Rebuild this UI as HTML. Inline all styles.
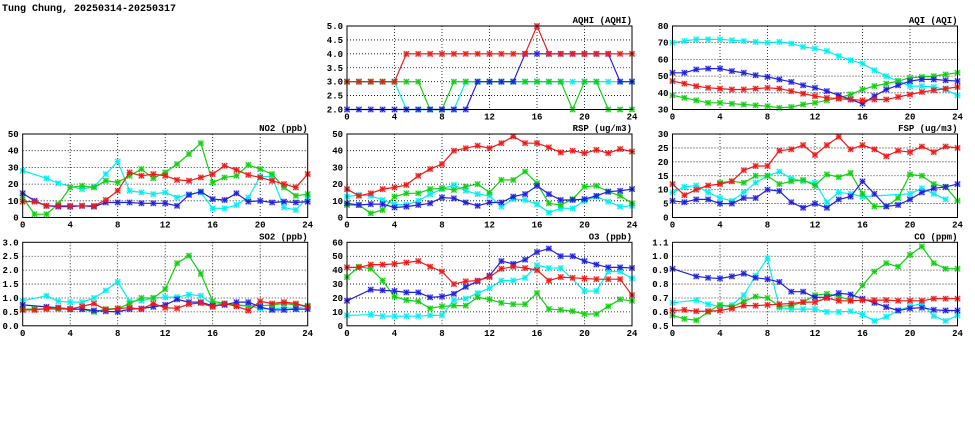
<!DOCTYPE html>
<html><head><meta charset="utf-8"><style>
html,body{margin:0;padding:0;background:#fff;width:975px;height:447px;overflow:hidden}
svg text{font-family:"Liberation Mono",monospace;font-weight:bold;font-size:9px;fill:#000}
</style></head><body>
<svg id="s" width="975" height="447" xmlns="http://www.w3.org/2000/svg">
<text x="2" y="11" style="font-size:10px">Tung Chung, 20250314-20250317</text>
</svg>
<script>
var N=null;
var C={c:"#00f0f0",g:"#10d010",b:"#2020e0",r:"#f01818"};
var P=[
{t:"AQHI (AQHI)",x:347,y:26,min:2,max:5,step:0.5,dec:1,d:{
c:[3,3,3,3,3,2,2,2,2,2,3,3,3,3,3,3,3,3,3,3,3,3,3,3,3],
g:[3,3,3,3,3,3,3,2,2,3,3,3,3,3,3,3,3,3,3,2,3,3,2,2,2],
b:[2,2,2,2,2,2,2,2,2,2,2,3,3,3,3,4,4,4,4,4,4,4,4,3,3],
r:[3,3,3,3,3,4,4,4,4,4,4,4,4,4,4,4,5,4,4,4,4,4,4,4,4]}},
{t:"AQI (AQI)",x:672.5,y:26,min:30,max:80,step:10,dec:0,d:{
c:[70,71,72,72,72,71.5,71,70.5,70,70.5,69.5,67.5,66.5,65,62,59.5,57.5,53.5,50,47,44,44,43.5,42,38.5],
g:[38.5,37,35.5,34,34,33.5,33,32.5,32,31,31.5,33,34,35.5,37,39,42,44,45.5,47,49,49.5,50,51,52],
b:[52,52,54,54.5,54.5,53,52,50.5,49.5,48,46.5,44.5,43,41,38.5,36,33.5,38,42,44.5,47,48,48,47.5,47],
r:[47,45.5,44,43,42.5,42,42,42.5,43,42.5,41,39.5,38,37,36.5,36,35.5,36,36,37.5,39,40.5,41.5,42.5,43.5]}},
{t:"NO2 (ppb)",x:22.7,y:134,min:0,max:50,step:10,dec:0,d:{
c:[28,N,23.5,20.5,N,17,18.5,26,33.5,16,15,14,15,12,14,15,5.5,5.5,7.5,12,24.5,24.5,6,4.5,12],
g:[12,2,2,8,18,19,18,22,21,25,29,23.5,27,32,38,44.5,21,24,25,31.5,29,26,18,13,14],
b:[14.5,10,7,6.5,6.5,7,6.5,9,9,9,8.5,8.5,8.5,7,13.5,15.5,11,10.5,14.5,9.5,10,9,9.5,9,9.5],
r:[9.5,9.5,7,7,7,7,7,10.5,16,27,25,26,25,22.5,22,24,26,31,28.5,25.5,24,22,20,18,26]}},
{t:"RSP (ug/m3)",x:347,y:134,min:0,max:50,step:10,dec:0,d:{
c:[12.5,13.5,13,10.5,8,7.5,10,14,17,19.5,16,14,13,6.5,11,10.5,8,3,5.5,5.5,10,12.5,9.5,6.5,7],
g:[7.5,7.5,2.5,4.5,12.5,14.5,14.5,17,17.5,16.5,18.5,20,15,22.5,22.5,27.5,20.5,8.5,7.5,11,18.5,19,15.5,13,8.5],
b:[8.5,7.5,8,8,6,6.5,7.5,8.5,12,11.5,9,7,9,9,12.5,14,19,14,10.5,10.5,11,13,15.5,16,17],
r:[17,13,14.5,17,18,19.5,25,29,32,40,41.5,43,41.5,44.5,48.5,44.5,44.5,42,39,40,38.5,40.5,38.5,41,39.5]}},
{t:"FSP (ug/m3)",x:672.5,y:134,min:0,max:30,step:5,dec:0,d:{
c:[9,11,11.5,9,7,6,9,12.5,15,16.5,14,13,12.5,5.5,9,8.5,7.5,N,N,N,8.5,10.5,8.5,6.5,N],
g:[N,N,N,N,12.5,13,12.5,15,15,12,13,13.5,11.5,15.5,14.5,16,8.5,4,4,7,15.5,15,12,11,6],
b:[6,5.5,6.5,6.5,5,5,7,7,10,9.5,5.5,3.5,5,3.5,6.5,7.5,13,8.5,4,4.5,6.5,9,10.5,11,12],
r:[12,8,10,11.5,12,13,17,18.5,18.5,24,24.5,26,22.5,26,29,24.5,26,24.5,22,24,23.5,25.5,23.5,25.5,25]}},
{t:"SO2 (ppb)",x:22.7,y:242.3,min:0,max:3,step:0.5,dec:1,d:{
c:[0.9,N,1.08,0.88,0.85,0.85,1.0,1.27,1.58,0.88,0.9,1.0,1.03,1.03,1.12,1.08,0.78,0.8,0.72,0.72,0.62,0.6,0.65,0.62,0.72],
g:[0.6,0.6,0.6,0.6,0.6,0.6,0.5,0.6,0.62,0.8,1.0,1.0,1.32,2.25,2.52,1.87,0.88,0.8,0.75,0.72,0.72,0.75,0.8,0.75,0.72],
b:[0.75,N,0.68,0.65,0.6,0.6,0.55,0.52,0.5,0.6,0.62,0.68,0.75,0.95,0.85,0.85,0.72,0.75,0.85,0.85,0.68,0.57,0.57,0.6,0.6],
r:[0.57,0.57,0.62,0.65,0.6,0.7,0.8,0.58,0.62,0.65,0.6,0.8,0.65,0.63,0.78,0.82,0.68,0.8,0.7,0.55,0.88,0.8,0.85,0.8,0.68]}},
{t:"O3 (ppb)",x:347,y:242.3,min:0,max:60,step:10,dec:0,d:{
c:[7.5,N,8,7,7,7,7,7.5,7.5,18.5,19.5,23.5,27,32.5,32.5,34.5,43.5,41.5,41.5,N,25,25,39,39,34],
g:[35,42.5,41,32.5,21,18.5,17.5,12.5,14,14.5,14.5,20.5,19,16.5,15.5,15.5,23.5,12,11.5,10.5,8.5,8.5,14,19,18],
b:[18,N,26,25.5,25,24,24,20.5,21,23,28,32,36,46.5,44.5,47.5,53,55.5,50,50,46.5,44,42,42,41.5],
r:[42,42,44,44,44.5,45.5,46.5,42.5,39,30,32,32.5,35,41,42.5,41.5,40,32.5,35,34.5,34,33.5,33.5,33.5,22]}},
{t:"CO (ppm)",x:672.5,y:242.3,min:0.5,max:1.1,step:0.1,dec:1,d:{
c:[.665,N,.685,.655,.64,.65,.72,.86,.985,.63,.62,.62,.62,.6,.6,.605,.58,.535,.565,.61,.64,.66,.57,.535,.575],
g:[.575,.55,.54,.6,.65,.635,.675,.71,.7,.64,.645,.67,.72,.73,.71,.685,.79,.89,.95,.925,1.01,1.07,.95,.91,.91],
b:[.91,N,.855,.845,.84,.855,.875,.845,.835,.815,.745,.745,.705,.705,.735,.725,.695,.665,.635,.61,.625,.63,.615,.61,.61],
r:[.61,.615,.605,.605,.61,.625,.645,.645,.65,.655,.66,.67,.67,.7,.68,.68,.685,.685,.685,.68,.68,.68,.695,.695,.695]}}
];
var W=285,H=83.5,s="";
P.forEach(function(p){
 var X=function(i){return p.x+i*W/24},Y=function(v){return p.y+H-(v-p.min)/(p.max-p.min)*H};
 s+='<text x="'+(p.x+W)+'" y="'+(p.y-3)+'" text-anchor="end">'+p.t+'</text>';
 for(var i=0;i<=24;i+=4){var x=X(i);
  if(i>0&&i<24)s+='<line x1="'+x+'" y1="'+p.y+'" x2="'+x+'" y2="'+(p.y+H)+'" stroke="#000" stroke-width="0.8" stroke-dasharray="1,2"/>';
  s+='<text x="'+x+'" y="'+(p.y+H+10)+'" text-anchor="middle">'+i+'</text>';}
 var n=Math.round((p.max-p.min)/p.step);
 for(var k=0;k<=n;k++){var v=p.min+k*p.step,y=Y(v);
  if(k>0&&k<n)s+='<line x1="'+p.x+'" y1="'+y+'" x2="'+(p.x+W)+'" y2="'+y+'" stroke="#000" stroke-width="0.8" stroke-dasharray="1,2"/>';
  s+='<text x="'+(p.x-4)+'" y="'+(y+3)+'" text-anchor="end">'+v.toFixed(p.dec)+'</text>';}
 ["c","g","b","r"].forEach(function(k){var a=p.d[k],col=C[k],pts=[];
  a.forEach(function(v,i){if(v!==null)pts.push([X(i),Y(v)]);});
  s+='<polyline fill="none" stroke="'+col+'" stroke-width="1.2" points="'+pts.map(function(q){return q[0].toFixed(1)+","+q[1].toFixed(1)}).join(" ")+'"/>';
  pts.forEach(function(q){var x=q[0],y=q[1],m=2.6;
   s+='<rect x="'+(x-3)+'" y="'+(y-3)+'" width="6" height="6" fill="'+col+'" opacity="0.3"/>';
   s+='<path d="M'+(x-m)+' '+(y-m)+'L'+(x+m)+' '+(y+m)+'M'+(x-m)+' '+(y+m)+'L'+(x+m)+' '+(y-m)+'M'+(x-m)+' '+y+'L'+(x+m)+' '+y+'M'+x+' '+(y-m)+'L'+x+' '+(y+m)+'" stroke="'+col+'" stroke-width="1"/>';});
 });
 s+='<rect x="'+p.x+'" y="'+p.y+'" width="'+W+'" height="'+H+'" fill="none" stroke="#000" stroke-width="1"/>';
});
document.getElementById("s").insertAdjacentHTML("beforeend",s);
</script>
</body></html>
